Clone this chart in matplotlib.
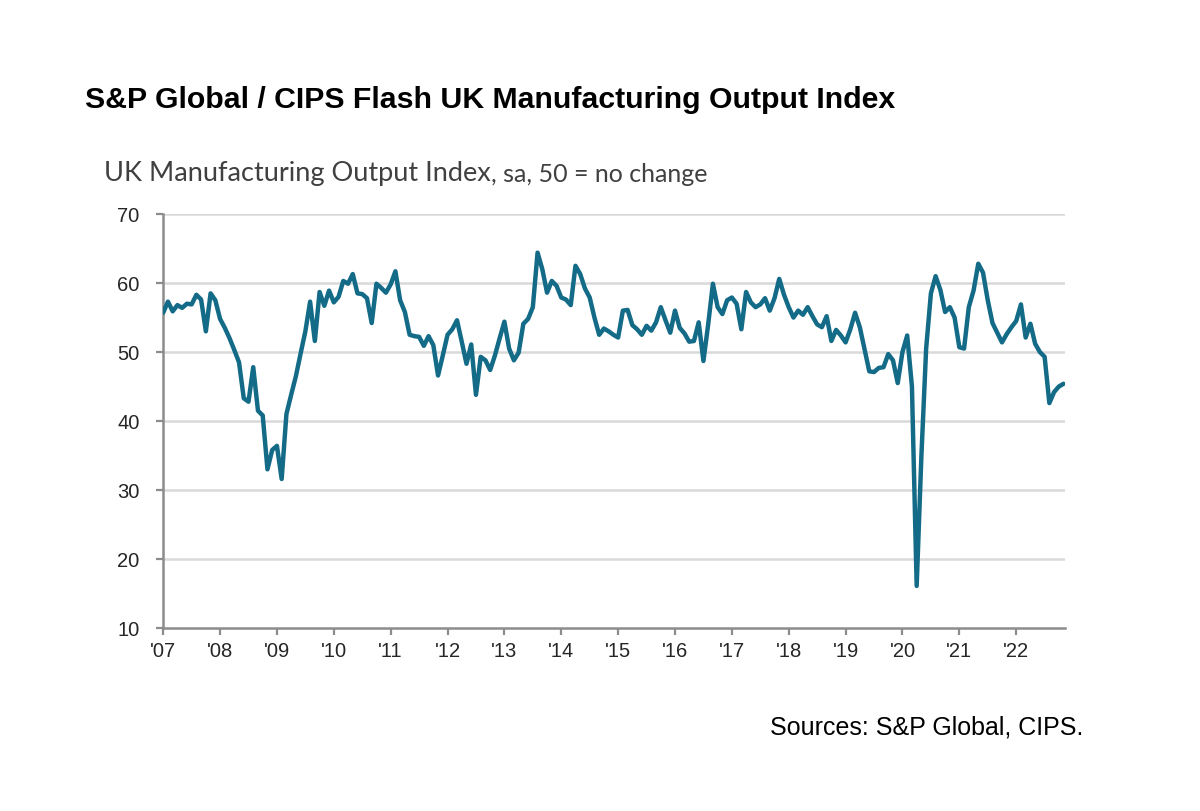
import numpy as np
import matplotlib
matplotlib.use("Agg")
import matplotlib.pyplot as plt

# Monthly flash output index, Jan 2007 - Nov 2022
y2007 = [55.7, 57.3, 55.9, 56.8, 56.4, 57.0, 56.9, 58.3, 57.6, 53.0, 58.5, 57.5]
y2008 = [54.8, 53.5, 52.0, 50.3, 48.5, 43.3, 42.8, 47.8, 41.5, 40.8, 33.0, 35.8]
y2009 = [36.4, 31.6, 41.0, 43.8, 46.5, 49.8, 53.0, 57.3, 51.6, 58.7, 56.7, 58.9]
y2010 = [57.2, 58.0, 60.3, 59.9, 61.3, 58.5, 58.4, 57.8, 54.2, 59.9, 59.3, 58.6]
y2011 = [59.8, 61.7, 57.5, 55.8, 52.5, 52.3, 52.2, 50.9, 52.3, 51.0, 46.6, 49.5]
y2012 = [52.5, 53.3, 54.6, 51.5, 48.3, 51.1, 43.8, 49.3, 48.8, 47.4, 49.5, 52.0]
y2013 = [54.4, 50.5, 48.8, 49.9, 54.1, 54.8, 56.5, 64.4, 62.0, 58.6, 60.3, 59.6]
y2014 = [57.9, 57.6, 56.8, 62.5, 61.3, 59.2, 57.9, 55.0, 52.5, 53.4, 53.0, 52.5]
y2015 = [52.1, 56.0, 56.1, 53.9, 53.3, 52.5, 53.8, 53.1, 54.3, 56.5, 54.6, 52.8]
y2016 = [56.0, 53.5, 52.7, 51.5, 51.6, 54.3, 48.7, 54.0, 59.9, 56.5, 55.5, 57.5]
y2017 = [57.9, 57.0, 53.3, 58.7, 57.2, 56.5, 56.9, 57.8, 56.0, 57.8, 60.6, 58.3]
y2018 = [56.5, 55.0, 56.0, 55.4, 56.5, 55.2, 54.0, 53.6, 55.2, 51.6, 53.2, 52.4]
y2019 = [51.4, 53.3, 55.7, 53.6, 50.4, 47.2, 47.1, 47.7, 47.8, 49.7, 48.8, 45.5]
y2020 = [50.0, 52.4, 45.0, 16.1, 35.0, 50.5, 58.5, 61.0, 59.0, 55.8, 56.5, 55.0]
y2021 = [50.7, 50.5, 56.5, 58.9, 62.8, 61.5, 57.5, 54.2, 52.8, 51.4, 52.6, 53.6]
y2022 = [54.5, 56.9, 52.1, 54.1, 51.2, 50.0, 49.3, 42.6, 44.2, 45.0, 45.4]

output_index = (y2007 + y2008 + y2009 + y2010 + y2011 + y2012 + y2013 + y2014
                + y2015 + y2016 + y2017 + y2018 + y2019 + y2020 + y2021 + y2022)
year_labels = ["'07", "'08", "'09", "'10", "'11", "'12", "'13", "'14",
               "'15", "'16", "'17", "'18", "'19", "'20", "'21", "'22"]
y_ticks = [10, 20, 30, 40, 50, 60, 70]

months = np.arange(len(output_index))

fig = plt.figure(figsize=(12, 8.11), dpi=100)
ax = fig.add_axes([0.136, 0.2256, 0.7515, 0.5105])

for v in y_ticks[1:]:
    ax.axhline(v, color='#d9d9d9', linewidth=1.8, zorder=0)

ax.plot(months, output_index, color='#136b87', linewidth=3.2,
        solid_joinstyle='round', solid_capstyle='round', zorder=3)

ax.set_xlim(0, 190.3)
ax.set_ylim(10, 70)
ax.set_yticks(y_ticks)
ax.set_xticks(np.arange(0, 12 * len(year_labels), 12))
ax.set_xticklabels(year_labels)

for side in ['top', 'right']:
    ax.spines[side].set_visible(False)
for side in ['left', 'bottom']:
    ax.spines[side].set_color('#8c8c8c')
    ax.spines[side].set_linewidth(1.8)
ax.tick_params(axis='both', colors='#8c8c8c', length=5, width=1.6,
               labelcolor='#262626', labelsize=14.5)
ax.tick_params(axis='y', pad=12)
ax.tick_params(axis='x', pad=5)
for lab in ax.get_xticklabels() + ax.get_yticklabels():
    lab.set_family('Liberation Sans')

fig.text(85 / 1200, 1 - 100 / 811, 'S&P Global / CIPS Flash UK Manufacturing Output Index',
         family='Liberation Sans', weight='bold', fontsize=21.8, va='center', ha='left')
t1 = fig.text(104 / 1200, 1 - 173 / 811, 'UK Manufacturing Output Index',
              family='Lato', fontsize=19.5, color='#404040', va='center', ha='left')
fig.canvas.draw()
bb = t1.get_window_extent()
fig.text(bb.x1 / 1200, 1 - 174 / 811, ', sa, 50 = no change',
         family='Lato', fontsize=18, color='#404040', va='center', ha='left')
fig.text(1083 / 1200, 1 - 727 / 811, 'Sources: S&P Global, CIPS.',
         family='Liberation Sans', fontsize=18, va='center', ha='right')

fig.savefig('out.png', dpi=100)
